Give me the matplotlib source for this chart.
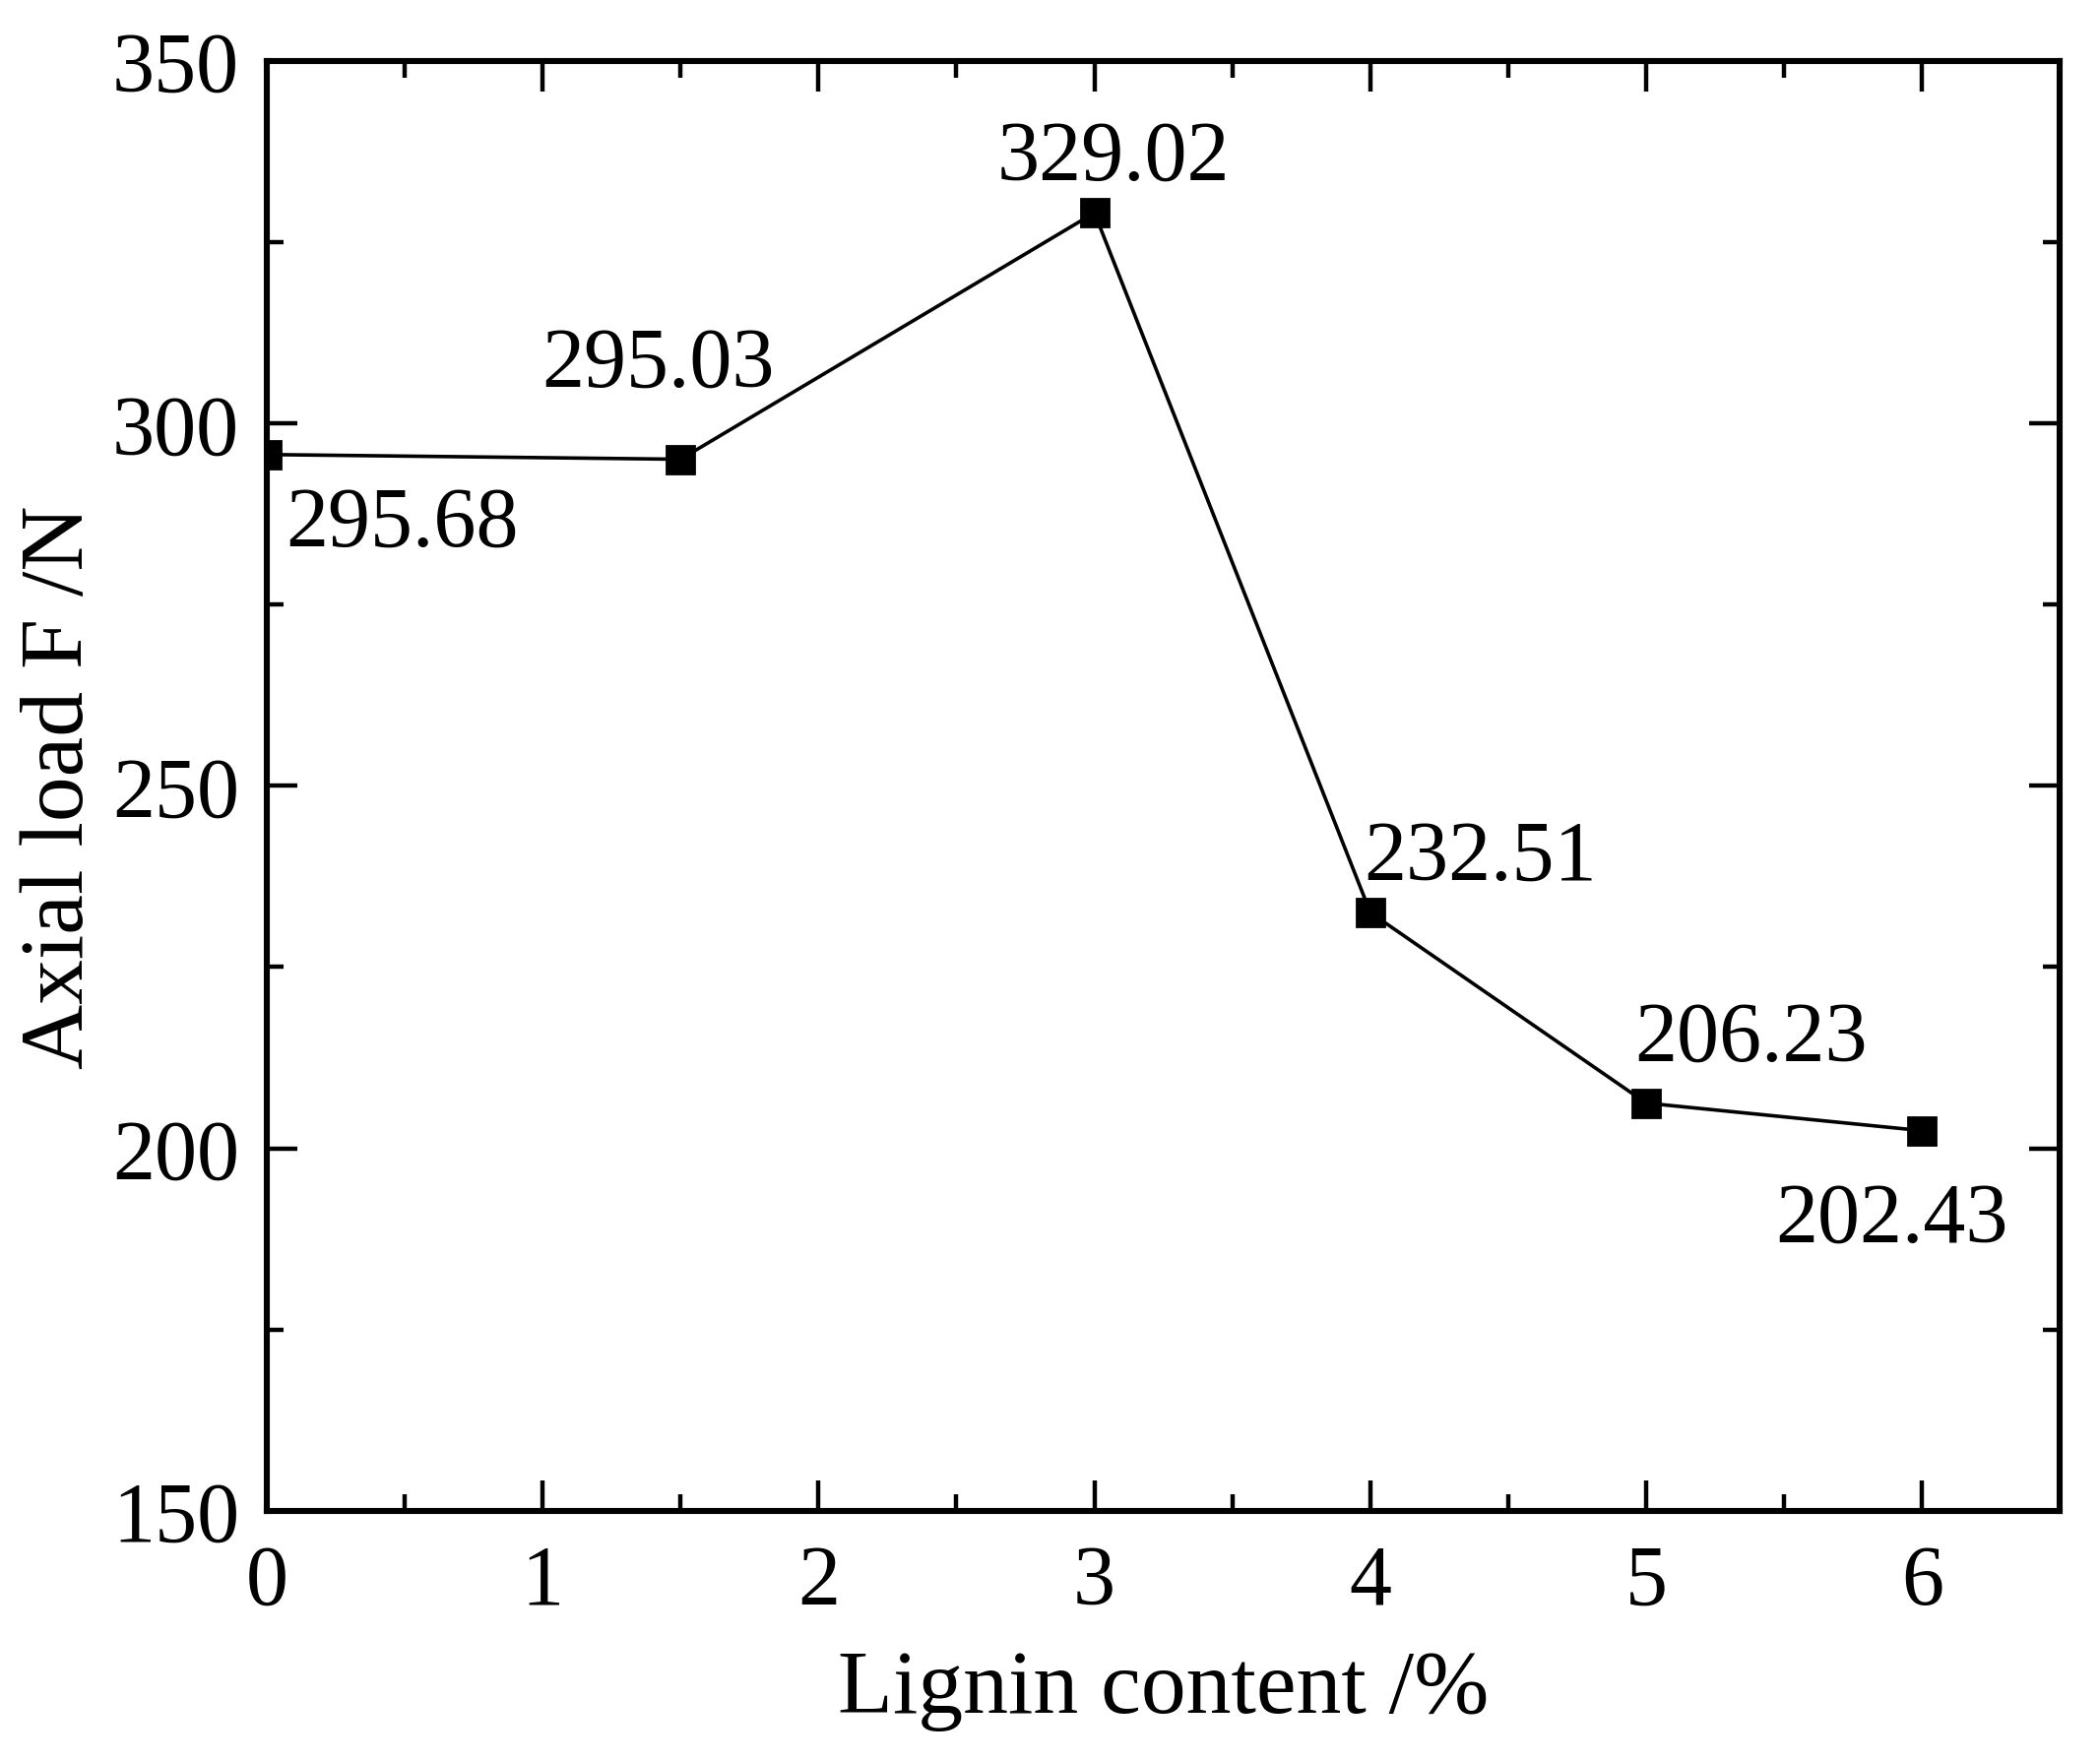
import matplotlib
matplotlib.use('Agg')
import matplotlib.pyplot as plt
from matplotlib.ticker import MultipleLocator

# Data
lignin = [0, 1.5, 3, 4, 5, 6]
load = [295.68, 295.03, 329.02, 232.51, 206.23, 202.43]
labels = ['295.68', '295.03', '329.02', '232.51', '206.23', '202.43']
# label anchor positions (data coords, text centre)
label_x = [0.07, 1.42, 3.07, 4.40, 5.38, 5.89]
label_y = [286.0, 308.0, 336.5, 240.0, 215.0, 190.0]
label_ha = ['left', 'center', 'center', 'center', 'center', 'center']

plt.rcParams['font.family'] = ['Liberation Serif', 'DejaVu Serif']

fig = plt.figure(figsize=(10.665, 8.95), dpi=200)
ax = fig.add_axes([0.127, 0.142, 0.854, 0.823])

ax.plot(lignin, load, color='black', linewidth=1.3, marker='s',
        markersize=10, markerfacecolor='black', markeredgecolor='black')

for xl, yl, txt, ha in zip(label_x, label_y, labels, label_ha):
    ax.text(xl, yl, txt, fontsize=31, ha=ha, va='center')

ax.set_xlim(0, 6.5)
ax.set_ylim(150, 350)
ax.xaxis.set_major_locator(MultipleLocator(1))
ax.xaxis.set_minor_locator(MultipleLocator(0.5))
ax.yaxis.set_major_locator(MultipleLocator(50))
ax.yaxis.set_minor_locator(MultipleLocator(25))

ax.tick_params(which='both', direction='in', top=True, right=True,
               width=1.6, labelsize=31)
ax.tick_params(which='major', length=11)
ax.tick_params(axis='x', which='major', pad=12)
ax.tick_params(axis='y', which='major', pad=10)
ax.tick_params(which='minor', length=6)
ax.tick_params(axis='x', labeltop=False)
ax.tick_params(axis='y', labelright=False)

for sp in ax.spines.values():
    sp.set_linewidth(2.2)

ax.set_xlabel('Lignin content /%', fontsize=33, labelpad=10)
ax.set_ylabel('Axial load F /N', fontsize=33, labelpad=4)

fig.savefig('out.png', dpi=200)
